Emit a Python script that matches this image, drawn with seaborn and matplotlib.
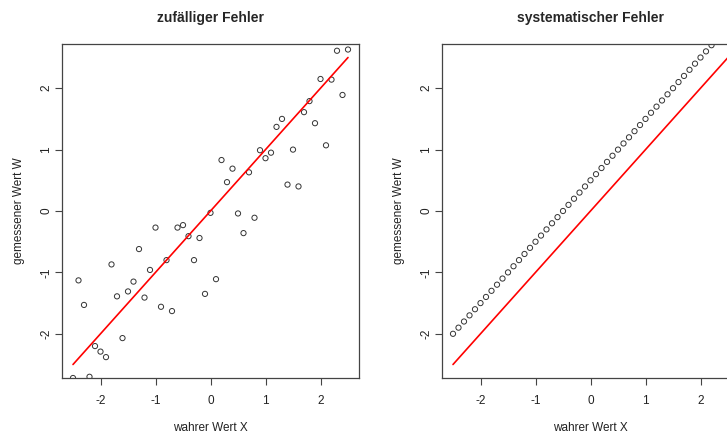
import pandas as pd
import matplotlib.pyplot as plt
import seaborn as sns

# true values X (same for both panels)
x_true = [-2.5, -2.4, -2.3, -2.2, -2.1, -2.0, -1.9, -1.8, -1.7, -1.6,
          -1.5, -1.4, -1.3, -1.2, -1.1, -1.0, -0.9, -0.8, -0.7, -0.6,
          -0.5, -0.4, -0.3, -0.2, -0.1, 0.0, 0.1, 0.2, 0.3, 0.4,
          0.5, 0.6, 0.7, 0.8, 0.9, 1.0, 1.1, 1.2, 1.3, 1.4,
          1.5, 1.6, 1.7, 1.8, 1.9, 2.0, 2.1, 2.2, 2.3, 2.4, 2.5]

# measured values W, random error
w_random = [-2.72, -1.13, -1.53, -2.70, -2.20, -2.29, -2.38, -0.87, -1.39, -2.07,
            -1.31, -1.15, -0.62, -1.41, -0.96, -0.27, -1.56, -0.80, -1.63, -0.27,
            -0.23, -0.41, -0.80, -0.44, -1.35, -0.03, -1.11, 0.83, 0.47, 0.69,
            -0.04, -0.36, 0.63, -0.11, 0.99, 0.86, 0.95, 1.37, 1.50, 0.43,
            1.00, 0.40, 1.61, 1.79, 1.43, 2.15, 1.07, 2.14, 2.61, 1.89, 2.63]

# measured values W, systematic error (offset)
w_system = [-2.0, -1.9, -1.8, -1.7, -1.6, -1.5, -1.4, -1.3, -1.2, -1.1,
            -1.0, -0.9, -0.8, -0.7, -0.6, -0.5, -0.4, -0.3, -0.2, -0.1,
            0.0, 0.1, 0.2, 0.3, 0.4, 0.5, 0.6, 0.7, 0.8, 0.9,
            1.0, 1.1, 1.2, 1.3, 1.4, 1.5, 1.6, 1.7, 1.8, 1.9,
            2.0, 2.1, 2.2, 2.3, 2.4, 2.5, 2.6, 2.7, 2.8, 2.9, 3.0]

# ideal line W = X
line_x = [-2.5, 2.5]
line_y = [-2.5, 2.5]

titles = ["zufälliger Fehler", "systematischer Fehler"]
ticks = [-2, -1, 0, 1, 2]

sns.set_theme(style="white")
plt.rcParams['font.family'] = ['Liberation Sans', 'DejaVu Sans']

fig = plt.figure(figsize=(7.27, 4.33), dpi=100)
ax1 = fig.add_axes([62/727, 55/433, 297/727, 334/433])
ax2 = fig.add_axes([442/727, 55/433, 297/727, 334/433])

line_df = pd.DataFrame({"x": line_x, "y": line_y})

for ax, w, title in zip([ax1, ax2], [w_random, w_system], titles):
    df = pd.DataFrame({"x": x_true, "w": w})
    sns.scatterplot(data=df, x="x", y="w", ax=ax, marker="o", s=14,
                    facecolor="none", edgecolor="#333333", linewidth=0.7)
    sns.lineplot(data=line_df, x="x", y="y", ax=ax, color="red",
                 linewidth=1.2, estimator=None)
    ax.set_xlim(-2.7, 2.7)
    ax.set_ylim(-2.72, 2.72)
    ax.set_xticks(ticks)
    ax.set_yticks(ticks)
    ax.set_xticklabels([str(t) for t in ticks])
    ax.set_yticklabels([str(t) for t in ticks], rotation=90, va="center")
    ax.tick_params(axis="both", direction="out", length=5, width=0.8,
                   color="#444444", labelsize=8.5, labelcolor="#222222",
                   bottom=True, left=True)
    ax.tick_params(axis="x", pad=7)
    ax.tick_params(axis="y", pad=2)
    for sp in ax.spines.values():
        sp.set_color("#444444")
        sp.set_linewidth(0.9)
    ax.set_xlabel("wahrer Wert X", fontsize=8.5, color="#222222", labelpad=11)
    ax.set_ylabel("gemessener Wert W", fontsize=8.5, color="#222222", labelpad=11)
    ax.set_title(title, fontsize=10, fontweight="bold", pad=15.5)
    ax.grid(False)

fig.savefig("out.png", dpi=100)
